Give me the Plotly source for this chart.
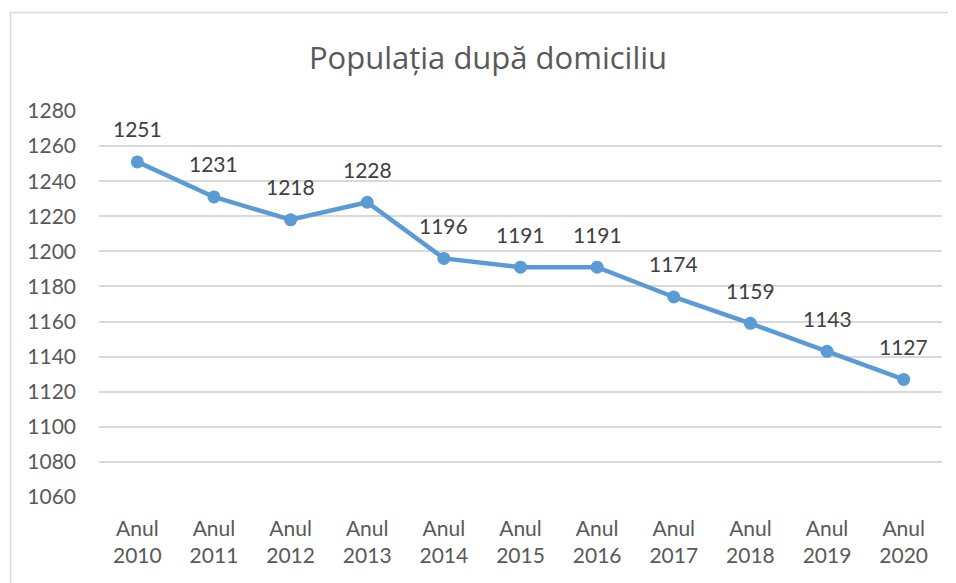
import plotly.graph_objects as go

years = ["2010", "2011", "2012", "2013", "2014", "2015", "2016", "2017", "2018", "2019", "2020"]
categories = [f"Anul<br>{y}" for y in years]
values = [1251, 1231, 1218, 1228, 1196, 1191, 1191, 1174, 1159, 1143, 1127]
y_ticks = list(range(1060, 1281, 20))

FONT = "Lato, Carlito, Calibri, sans-serif"
TFONT = "Open Sans, Lato, sans-serif"

# page body has an 8px default margin; compensate so figure fills the window
OFF = 8
W, H = 956 - OFF, 583 - OFF
ml, mr, mt = 99 - OFF, 14, 111 - OFF
ph = 386
mb = H - mt - ph
pw = W - ml - mr

def px(x):
    return (x - OFF - ml) / pw

def py(y):
    return 1 - (y - OFF - mt) / ph

fig = go.Figure()
fig.add_trace(go.Scatter(
    x=categories, y=values,
    mode="lines+markers",
    line=dict(color="#5B9BD5", width=4.5),
    marker=dict(color="#5B9BD5", size=13),
    cliponaxis=False,
    hoverinfo="x+y",
))

for c, v in zip(categories, values):
    fig.add_annotation(x=c, y=v, text=str(v), showarrow=False, yshift=33,
                       xanchor="center", yanchor="middle",
                       font=dict(family=FONT, size=21, color="#404040"))

fig.add_shape(type="rect", xref="paper", yref="paper",
              x0=px(10.5), x1=px(952), y0=py(12.5), y1=py(600),
              line=dict(color="#D9D9D9", width=1.5), fillcolor="rgba(0,0,0,0)", layer="below")

fig.update_layout(
    width=W, height=H,
    margin=dict(l=ml, r=mr, t=mt, b=mb, autoexpand=False),
    paper_bgcolor="white", plot_bgcolor="white",
    showlegend=False,
    title=dict(text="Populația după domiciliu", x=px(488), xref="paper", xanchor="center",
               y=1 - (58 - OFF) / H, yref="container", yanchor="middle",
               font=dict(family=TFONT, size=31, color="#595959")),
    font=dict(family=FONT, size=21, color="#595959"),
)
fig.update_xaxes(type="category", showgrid=False, showline=False, ticks="",
                 tickfont=dict(family=FONT, size=21, color="#595959"), range=[-0.5, 10.5],
                 ticklabelstandoff=17)
fig.update_yaxes(range=[1060, 1280], tickvals=y_ticks, showgrid=True, gridcolor="#D9D9D9",
                 gridwidth=1.5, zeroline=False, showline=False, ticks="",
                 tickfont=dict(family=FONT, size=21, color="#595959"),
                 ticklabelstandoff=22)

fig.write_html("out.html")
